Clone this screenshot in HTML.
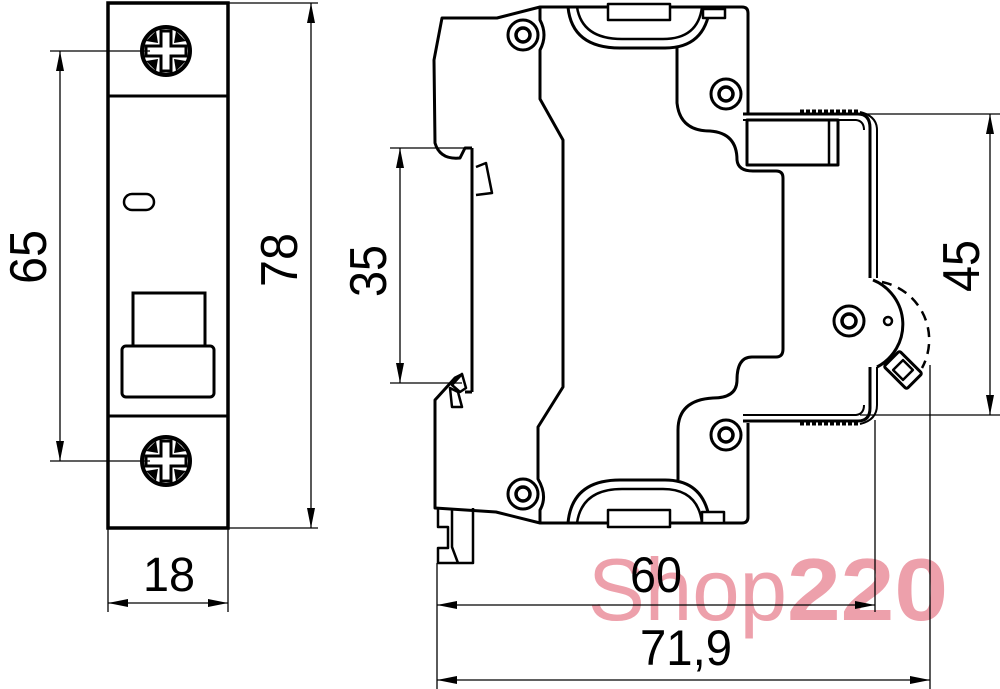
<!DOCTYPE html>
<html><head><meta charset="utf-8"><style>
html,body{margin:0;padding:0;background:#fff;}
svg{display:block;}
text{font-family:"Liberation Sans",sans-serif;}
</style></head><body>
<svg width="1000" height="689" viewBox="0 0 1000 689" xmlns="http://www.w3.org/2000/svg">
<defs>
<marker id="a" viewBox="0 0 20 8" refX="20" refY="4" markerWidth="20" markerHeight="8" markerUnits="userSpaceOnUse" orient="auto-start-reverse"><path d="M0,0 L20,4 L0,8 Z" fill="#000"/></marker>
<g id="screw">
<circle r="24" fill="#fff" stroke="#000" stroke-width="4"/>
<path d="M-5,-20 L5,-20 L5,-5 L20,-5 L20,5 L5,5 L5,20 L-5,20 L-5,5 L-20,5 L-20,-5 L-5,-5 Z" fill="#fff" stroke="#000" stroke-width="3"/>
<g fill="#000">
<path d="M8,-8 L10,-20 L20,-10 Z"/><path d="M-8,-8 L-10,-20 L-20,-10 Z"/>
<path d="M8,8 L10,20 L20,10 Z"/><path d="M-8,8 L-10,20 L-20,10 Z"/>
</g>
</g>
<g id="rs"><circle r="15" fill="#fff" stroke="#000" stroke-width="3"/><circle r="7" fill="none" stroke="#000" stroke-width="3.5"/></g>
</defs>

<!-- watermark -->
<text x="588" y="620" font-size="88" fill="#eda0ab" textLength="199" lengthAdjust="spacingAndGlyphs">Shop</text>
<text x="787" y="620" font-size="88" font-weight="bold" fill="#eda0ab" textLength="161" lengthAdjust="spacingAndGlyphs">220</text>

<g fill="none" stroke="#000">
<!-- LEFT VIEW -->
<rect x="108" y="3" width="120" height="525" stroke-width="3.5"/>
<line x1="108" y1="96" x2="228" y2="96" stroke-width="3"/>
<line x1="108" y1="416" x2="228" y2="416" stroke-width="3"/>
<rect x="124" y="194" width="30" height="16" rx="8" stroke-width="2.5"/>
<rect x="133" y="293" width="72" height="53" stroke-width="3"/>
<rect x="122" y="346" width="92" height="51" rx="4" stroke-width="3" fill="#fff"/>
</g>
<use href="#screw" x="166" y="51"/>
<use href="#screw" x="166" y="461"/>
<g fill="none" stroke="#000" stroke-width="1.3">
<line x1="50" y1="51" x2="150" y2="51"/><line x1="50" y1="461" x2="150" y2="461"/>
<line x1="60" y1="51" x2="60" y2="461" marker-start="url(#a)" marker-end="url(#a)"/>
<line x1="228" y1="3" x2="318" y2="3"/><line x1="228" y1="528" x2="318" y2="528"/>
<line x1="311" y1="3" x2="311" y2="528" marker-start="url(#a)" marker-end="url(#a)"/>
<line x1="108" y1="528" x2="108" y2="612"/><line x1="228" y1="528" x2="228" y2="612"/>
<line x1="108" y1="603" x2="228" y2="603" marker-start="url(#a)" marker-end="url(#a)"/>
</g>
<text transform="translate(46,257) rotate(-90)" font-size="52" text-anchor="middle" textLength="54" lengthAdjust="spacingAndGlyphs">65</text>
<text transform="translate(297,260) rotate(-90)" font-size="52" text-anchor="middle" textLength="54" lengthAdjust="spacingAndGlyphs">78</text>
<text x="169" y="591" font-size="48" text-anchor="middle" textLength="52" lengthAdjust="spacingAndGlyphs">18</text>

<!-- RIGHT VIEW -->
<g fill="none" stroke="#000" stroke-width="3" stroke-linejoin="round">
<!-- outer outline -->
<path d="M472,148 L465,148 L460,158 Q440,160 435,143 L434,60 L442,18 L497,18 L540,7 L742,7 Q748,7 748,13 L748,114"/>
<path d="M748,423 L748,517 Q748,523 742,523 L540,523 L496,512 L435,508 L435,400 L455,378 L463,374"/>
<line x1="472" y1="148" x2="472" y2="392"/>
<path d="M472,392 L465,392"/>
<path d="M452,385 L462,374 L466,388 L460,392 Z" stroke-width="2.5"/>
<path d="M450,388 L458,392 L462,407 L452,407 Z" stroke-width="2.5"/>
<path d="M476,167 L486,163 L492,193 L476,195" stroke-width="2.5"/>
<!-- foot -->
<path d="M438,508 L438,527 L448,527 L448,548 L438,548 L438,563 L473,563 L473,508" stroke-width="2.5"/>
<path d="M452,508 L452,547 L458,563" stroke-width="2.5"/>
<!-- inner body line -->
<path d="M540,7 L540,20 Q548,35 540,50 L540,99 L563,140 L563,387 L538,427 L538,479 Q548,496 540,510 L540,523"/>
<!-- top handle arcs -->
<path d="M568,7 Q572,48 620,48 L665,48 Q705,48 710,7"/>
<path d="M577,7 Q582,39 622,39 L663,39 Q698,39 702,7" stroke-width="2.5"/>
<path d="M608,20 L608,4 L670,4 L670,20 Z" fill="#fff" stroke-width="2.5"/>
<rect x="703" y="9" width="22" height="9" fill="#fff" stroke-width="2.5"/>
<!-- bottom handle arcs -->
<path d="M568,523 Q572,480 620,480 L665,480 Q705,480 710,523"/>
<path d="M577,523 Q582,489 622,489 L663,489 Q698,489 702,523" stroke-width="2.5"/>
<path d="M608,510 L608,527 L670,527 L670,510 Z" fill="#fff" stroke-width="2.5"/>
<rect x="702" y="512" width="22" height="11" fill="#fff" stroke-width="2.5"/>
<!-- right stepped contour -->
<path d="M677,48 L677,103 Q680,131 710,131 Q737,133 737,160 Q738,171 753,171 L776,171 Q783,171 783,178 L783,349 Q783,357 776,357 L752,357 Q737,357 737,380 Q737,398 713,398 Q678,400 678,430 L678,480"/>
<!-- terminals -->
<path d="M743,114 L858,114 Q870,114 870,128 L870,278"/>
<path d="M743,120 L856,120 Q864,121 864,130" stroke-width="2"/>
<path d="M877,278 L877,130 Q877,116 860,112" stroke-width="2"/>
<path d="M800,111 L858,111" stroke-width="3" stroke-dasharray="4 2"/>
<rect x="747" y="120" width="91" height="45" stroke-width="3"/>
<line x1="829" y1="120" x2="829" y2="165" stroke-width="2.5"/>
<path d="M743,421 L858,421 Q870,421 870,408 L870,367"/>
<path d="M743,415 L856,415 Q864,414 864,405" stroke-width="2"/>
<path d="M877,367 L877,405 Q877,420 860,424" stroke-width="2"/>
<path d="M800,424 L858,424" stroke-width="3" stroke-dasharray="4 2"/>
<!-- rotary arc -->
<path d="M873,280 A48,48 0 0 1 877,367"/>
<path d="M882,282 A59,59 0 0 1 922,368" stroke-width="2.5" stroke-dasharray="10 7"/>
<g transform="translate(903,370) rotate(45)">
<rect x="-16" y="-11" width="32" height="22" rx="2" fill="#fff" stroke-width="3"/>
<rect x="-7" y="-7" width="14" height="14" stroke-width="2.5"/>
</g>
</g>
<use href="#rs" x="523" y="35"/>
<use href="#rs" x="726" y="94"/>
<use href="#rs" x="726" y="435"/>
<use href="#rs" x="523" y="494"/>
<use href="#rs" x="849" y="321"/>
<circle cx="888" cy="321" r="4" fill="#fff" stroke="#000" stroke-width="2.5"/>

<!-- right dimensions -->
<g fill="none" stroke="#000" stroke-width="1.3">
<line x1="390" y1="148" x2="470" y2="148"/><line x1="390" y1="383" x2="462" y2="383"/>
<line x1="400" y1="148" x2="400" y2="383" marker-start="url(#a)" marker-end="url(#a)"/>
<line x1="860" y1="114" x2="1000" y2="114"/><line x1="860" y1="415" x2="1000" y2="415"/>
<line x1="990" y1="114" x2="990" y2="415" marker-start="url(#a)" marker-end="url(#a)"/>
<line x1="437" y1="563" x2="437" y2="689"/>
<line x1="875" y1="420" x2="875" y2="612"/>
<line x1="930" y1="365" x2="930" y2="689"/>
<line x1="437" y1="605" x2="875" y2="605" marker-start="url(#a)" marker-end="url(#a)"/>
<line x1="437" y1="680" x2="930" y2="680" marker-start="url(#a)" marker-end="url(#a)"/>
</g>
<text transform="translate(386,271) rotate(-90)" font-size="52" text-anchor="middle" textLength="52" lengthAdjust="spacingAndGlyphs">35</text>
<text transform="translate(979,266) rotate(-90)" font-size="52" text-anchor="middle" textLength="52" lengthAdjust="spacingAndGlyphs">45</text>
<text x="656" y="592" font-size="50" text-anchor="middle" textLength="52" lengthAdjust="spacingAndGlyphs">60</text>
<text x="686" y="665" font-size="50" text-anchor="middle" textLength="92" lengthAdjust="spacingAndGlyphs">71,9</text>
</svg>
</body></html>
